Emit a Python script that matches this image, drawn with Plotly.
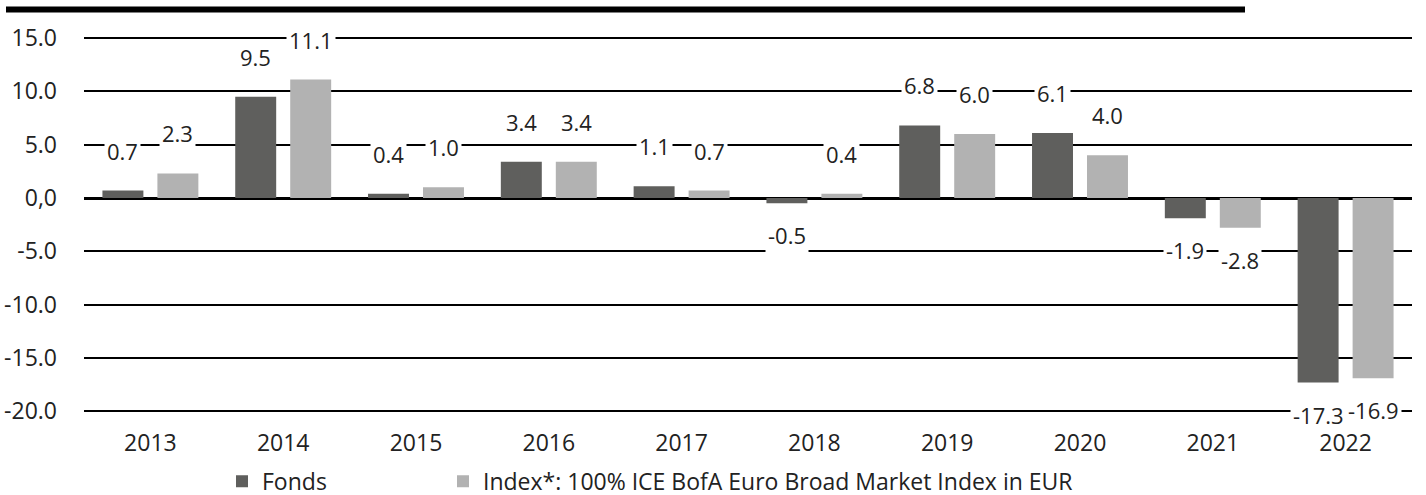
import plotly.graph_objects as go

years = ["2013", "2014", "2015", "2016", "2017", "2018", "2019", "2020", "2021", "2022"]
fonds = [0.7, 9.5, 0.4, 3.4, 1.1, -0.5, 6.8, 6.1, -1.9, -17.3]
index_vals = [2.3, 11.1, 1.0, 3.4, 0.7, 0.4, 6.0, 4.0, -2.8, -16.9]
series_names = ["Fonds", "Index*: 100% ICE BofA Euro Broad Market Index in EUR"]
y_tickvals = [15, 10, 5, 0, -5, -10, -15, -20]
y_ticktext = ["15.0", "10.0", "5.0", "0,0", "-5.0", "-10.0", "-15.0", "-20.0"]

C_FONDS = "#5f5f5d"
C_INDEX = "#b2b2b2"
FONT = "Open Sans"
TXT = "#222222"
FS = 23

W, H = 1426, 495
L, R, T, B = 84, 14, 21.5, 72.8
PW, PH = W - L - R, H - T - B

fig = go.Figure()
fig.add_trace(go.Bar(x=years, y=fonds, name=series_names[0], marker_color=C_FONDS,
                     marker_line_width=0, hoverinfo="skip", legend="legend"))
fig.add_trace(go.Bar(x=years, y=index_vals, name=series_names[1], marker_color=C_INDEX,
                     marker_line_width=0, hoverinfo="skip", legend="legend2"))

def fmt(v):
    return f"{v:.1f}"

annotations = []
for vals, xs in ((fonds, -27.5), (index_vals, 27.5)):
    for i, v in enumerate(vals):
        annotations.append(dict(
            x=i, y=v, xref="x", yref="y", text=fmt(v), showarrow=False,
            xshift=xs, yshift=40 if v >= 0 else -32, yanchor="middle",
            bgcolor="white", borderpad=2,
            font=dict(family=FONT, size=FS - 1, color=TXT)))

legend_common = dict(orientation="h", xanchor="left", y=-(481.5 - (H - B)) / PH, yanchor="middle",
                     font=dict(family=FONT, size=FS, color=TXT), bgcolor="rgba(0,0,0,0)")

fig.update_layout(
    width=W, height=H,
    margin=dict(l=L, r=R, t=T, b=B, autoexpand=False),
    paper_bgcolor="white", plot_bgcolor="white",
    barmode="group", bargap=0.172, bargroupgap=0.255,
    font=dict(family=FONT, size=FS, color=TXT),
    showlegend=True,
    legend=dict(x=(222 - L) / PW, **legend_common),
    legend2=dict(x=(443 - L) / PW, **legend_common),
    annotations=annotations,
    shapes=[dict(type="line", xref="paper", yref="paper", x0=(6 - L) / PW, x1=(1245 - L) / PW,
                 y0=1.0 + (T - 9) / PH, y1=1.0 + (T - 9) / PH,
                 line=dict(color="black", width=6))],
)
fig.update_xaxes(type="category", range=[-0.5, 9.5], showgrid=False, showline=False,
                 zeroline=False, ticks="", ticklabelstandoff=5,
                 tickfont=dict(family=FONT, size=FS, color=TXT))
fig.update_yaxes(range=[-21, 16.5], tickvals=y_tickvals, ticktext=y_ticktext,
                 showgrid=True, gridcolor="black", gridwidth=2,
                 zeroline=True, zerolinecolor="black", zerolinewidth=3,
                 showline=False, ticks="", ticklabelstandoff=26,
                 tickfont=dict(family=FONT, size=FS, color=TXT))

fig.write_html("out.html", config={"displayModeBar": False},
               post_script="document.body.style.margin='0';")
